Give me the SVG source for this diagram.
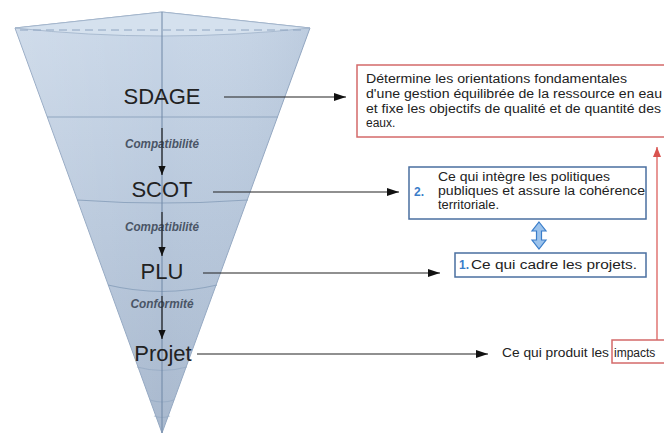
<svg xmlns="http://www.w3.org/2000/svg" width="664" height="436" viewBox="0 0 664 436">
<defs>
<linearGradient id="cone" x1="0" y1="0" x2="0" y2="1">
<stop offset="0" stop-color="#c9d7e8"/>
<stop offset="0.5" stop-color="#b7c7db"/>
<stop offset="1" stop-color="#a9b9ce"/>
</linearGradient>
<linearGradient id="side" x1="0" y1="0" x2="1" y2="0">
<stop offset="0" stop-color="#ffffff" stop-opacity="0.15"/>
<stop offset="0.5" stop-color="#ffffff" stop-opacity="0"/>
<stop offset="1" stop-color="#6f86a3" stop-opacity="0.12"/>
</linearGradient>
<marker id="ah" viewBox="0 0 12 8" refX="12" refY="4" markerWidth="12" markerHeight="8" markerUnits="userSpaceOnUse" orient="auto">
<path d="M0,0 L12,4 L0,8 z" fill="#111"/>
</marker>
<marker id="ahs" viewBox="0 0 10 8" refX="10" refY="4" markerWidth="9" markerHeight="8" markerUnits="userSpaceOnUse" orient="auto">
<path d="M0,0 L10,4 L0,8 z" fill="#111"/>
</marker>
<marker id="ahr" viewBox="0 0 10 8" refX="10" refY="4" markerWidth="10" markerHeight="8" markerUnits="userSpaceOnUse" orient="auto">
<path d="M0,0 L10,4 L0,8 z" fill="#d9534f"/>
</marker>
</defs>
<style>
.big{font-family:"Liberation Sans",Arial,sans-serif;font-size:22px;fill:#222;text-anchor:middle}
.rel{font-family:"Liberation Sans",Arial,sans-serif;font-size:12.5px;font-style:italic;font-weight:bold;fill:#4a5566;text-anchor:middle}
.txt{font-family:"Liberation Sans",Arial,sans-serif;font-size:12px;fill:#222}
.num{font-family:"Liberation Sans",Arial,sans-serif;font-size:12px;font-weight:bold;fill:#3a7dc9}
.band{fill:none;stroke:#8fa5bf;stroke-width:1.2}
.conn{stroke:#222;stroke-width:1.2;fill:none}
.bluebox{fill:#fff;stroke:#4a6fa0;stroke-width:1.5}
.redbox{fill:#fff;stroke:#d46a6a;stroke-width:1.5}
</style>
<g id="cone">
<path d="M15,28 L162,12 L310,28 L162,433 Z" fill="url(#cone)" stroke="#94a8c2" stroke-width="1"/>
<path d="M15,28 L162,12 L310,28 L162,433 Z" fill="url(#side)"/>
<path d="M15,28 L162,12 L310,28 Q162,44 15,28 Z" fill="#d5e1ee" stroke="#9fb2c9" stroke-width="0.8"/>
<path d="M20,30 L305,30" stroke="#8ea4c0" stroke-width="1" stroke-dasharray="8,5"/>
<path class="band" d="M47,117 L278,117"/>
<path class="band" d="M77,200 Q162,206 248,200"/>
<path class="band" d="M108,285 Q162,298 217,285"/>
<path class="band" d="M137,367 Q162,374 187,367" stroke-opacity="0.6"/>
<path class="band" d="M150,400 Q162,404 174,400" stroke-opacity="0.6"/>
<path class="band" d="M154,416 Q162,419 170,416" stroke-opacity="0.5"/>
<line x1="162" y1="12" x2="162" y2="433" stroke="#6f87a6" stroke-width="1"/>
</g>
<g id="levels">
<g id="sdage"><text class="big" x="162" y="104">SDAGE</text></g>
<g id="scot"><text class="big" x="162" y="197">SCOT</text></g>
<g id="plu"><text class="big" x="162" y="279">PLU</text></g>
<g id="projet"><text class="big" x="163" y="361">Projet</text></g>
<text class="rel" x="162" y="148" textLength="74" lengthAdjust="spacingAndGlyphs">Compatibilité</text>
<text class="rel" x="162" y="231" textLength="74" lengthAdjust="spacingAndGlyphs">Compatibilité</text>
<text class="rel" x="162" y="308" textLength="63" lengthAdjust="spacingAndGlyphs">Conformité</text>
</g>
<g id="connectors">
<line class="conn" x1="162" y1="128" x2="162" y2="175" marker-end="url(#ahs)"/>
<line class="conn" x1="162" y1="212" x2="162" y2="256" marker-end="url(#ahs)"/>
<line class="conn" x1="162" y1="296" x2="162" y2="339" marker-end="url(#ahs)"/>
<line class="conn" x1="224" y1="97" x2="346" y2="97" marker-end="url(#ah)"/>
<line class="conn" x1="213" y1="192" x2="399" y2="192" marker-end="url(#ah)"/>
<line class="conn" x1="203" y1="273" x2="440" y2="273" marker-end="url(#ah)"/>
<line class="conn" x1="197" y1="354" x2="488" y2="354" marker-end="url(#ah)"/>
<line x1="657" y1="340" x2="657" y2="147" stroke="#d9534f" stroke-width="1.2" marker-end="url(#ahr)"/>
<path d="M539,222 L546,231 L541.5,231 L541.5,240 L546,240 L539,249 L532,240 L536.5,240 L536.5,231 L532,231 Z" fill="#9cc3ec" stroke="#3a7dc9" stroke-width="1.2"/>
</g>
<g id="box-sdage">
<rect class="redbox" x="357" y="65" width="320" height="72"/>
<text class="txt" x="366" y="83" textLength="261" lengthAdjust="spacingAndGlyphs">Détermine les orientations fondamentales</text>
<text class="txt" x="366" y="98" textLength="296" lengthAdjust="spacingAndGlyphs">d'une gestion équilibrée de la ressource en eau</text>
<text class="txt" x="366" y="113" textLength="295" lengthAdjust="spacingAndGlyphs">et fixe les objectifs de qualité et de quantité des</text>
<text class="txt" x="366" y="127">eaux.</text>
</g>
<g id="box-scot">
<rect class="bluebox" x="409" y="167" width="237" height="52"/>
<text class="num" x="414" y="196">2.</text>
<text class="txt" x="438" y="181" textLength="172" lengthAdjust="spacingAndGlyphs">Ce qui intègre les politiques</text>
<text class="txt" x="438" y="195" textLength="207" lengthAdjust="spacingAndGlyphs">publiques et assure la cohérence</text>
<text class="txt" x="438" y="209" textLength="61" lengthAdjust="spacingAndGlyphs">territoriale.</text>
</g>
<g id="box-plu">
<rect class="bluebox" x="455" y="253" width="191" height="24"/>
<text class="num" x="459" y="269">1.</text>
<text class="txt" x="471" y="269" textLength="166" lengthAdjust="spacingAndGlyphs">Ce qui cadre les projets.</text>
</g>
<g id="box-projet">
<rect x="612" y="340" width="60" height="23" fill="#fff" stroke="#d46a6a" stroke-width="1.5"/>
<text class="txt" x="502" y="357"><tspan textLength="107" lengthAdjust="spacingAndGlyphs">Ce qui produit les</tspan><tspan x="614">impacts</tspan></text>
</g>
</svg>
